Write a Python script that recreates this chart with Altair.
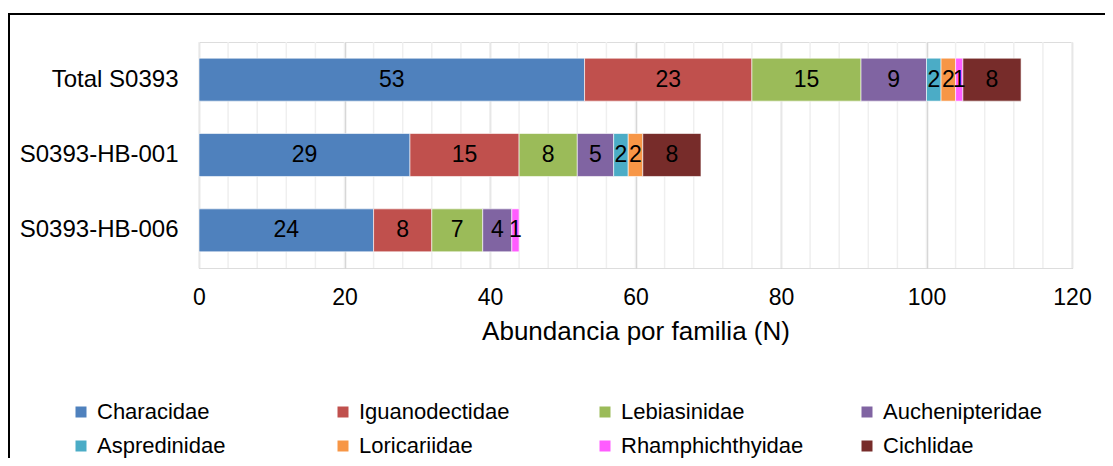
import altair as alt
import pandas as pd

sites = ["Total S0393", "S0393-HB-001", "S0393-HB-006"]
families = ["Characidae", "Iguanodectidae", "Lebiasinidae", "Auchenipteridae",
            "Aspredinidae", "Loricariidae", "Rhamphichthyidae", "Cichlidae"]
colors = ["#4F81BD", "#C0504D", "#9BBB59", "#8064A2",
          "#4BACC6", "#F79646", "#FF5CFF", "#772C2A"]
total = [53, 23, 15, 9, 2, 2, 1, 8]
hb001 = [29, 15, 8, 5, 2, 2, 0, 8]
hb006 = [24, 8, 7, 4, 0, 0, 1, 0]
x_ticks = [0, 20, 40, 60, 80, 100, 120]
minor_ticks = list(range(0, 124, 4))

rows = []
for site, vals in zip(sites, [total, hb001, hb006]):
    for i, (fam, v) in enumerate(zip(families, vals)):
        if v > 0:
            rows.append({"site": site, "family": fam, "n": v, "ord": i})
df = pd.DataFrame(rows)

FONT = "Liberation Sans"
W, H = 873, 226
PL, PT = 191, 34
CW, CH = 1097, 450

xscale = alt.Scale(domain=[0, 120], nice=False, zero=True)
yscale = alt.Scale(domain=sites, paddingInner=0.43, paddingOuter=0.215)

minor = alt.Chart(pd.DataFrame({"t": minor_ticks})).mark_rule(
    color="#EFEFEF", strokeWidth=1.5
).encode(
    x=alt.X("t:Q", scale=xscale),
    y=alt.value(0), y2=alt.value(H),
)

base = alt.Chart(df).transform_stack(
    stack="n", groupby=["site"], sort=[alt.SortField("ord")], as_=["x0", "x1"]
).transform_calculate(mid="(datum.x0 + datum.x1) / 2")

bars = base.mark_bar(stroke="white", strokeWidth=0.6).encode(
    x=alt.X("x0:Q", scale=xscale, title="Abundancia por familia (N)",
            axis=alt.Axis(values=x_ticks, grid=True, gridColor="#D0D0D0",
                          gridWidth=1.5, ticks=False, domain=False,
                          labelFontSize=23, labelFont=FONT, labelColor="#000",
                          labelPadding=18, titleFontSize=26, titleFont=FONT,
                          titleFontWeight="normal", titleColor="#000",
                          titlePadding=9, labelFlush=False)),
    x2="x1:Q",
    y=alt.Y("site:N", scale=yscale, sort=sites, title=None,
            axis=alt.Axis(ticks=False, domain=False, labelFontSize=24,
                          labelFont=FONT, labelColor="#000", labelPadding=21,
                          grid=False, labelLimit=300)),
    color=alt.Color("family:N", scale=alt.Scale(domain=families, range=colors),
                    sort=families,
                    legend=alt.Legend(orient="none", legendX=-129, legendY=359,
                                      columns=4, direction="horizontal",
                                      gridAlign="all",
                                      columnPadding=52, rowPadding=12,
                                      symbolType="square", symbolSize=121,
                                      symbolStrokeWidth=0, labelFontSize=22,
                                      labelFont=FONT, labelColor="#000",
                                      labelOffset=5, title=None, labelLimit=300)),
)

labels = base.mark_text(fontSize=23, font=FONT, color="#000").encode(
    x=alt.X("mid:Q", scale=xscale),
    y=alt.Y("site:N", scale=yscale, sort=sites),
    text="n:Q",
)

one = pd.DataFrame({"a": [0]})
border_left = alt.Chart(one).mark_rule(color="#000", strokeWidth=2).encode(
    x=alt.value(-PL + 1), y=alt.value(-PT + 6), y2=alt.value(CH - PT)
)
border_top = alt.Chart(one).mark_rule(color="#000", strokeWidth=2).encode(
    x=alt.value(-PL), x2=alt.value(CW - PL), y=alt.value(-PT + 6)
)

chart = alt.layer(minor, bars, labels, border_left, border_top).properties(
    width=W, height=H,
    autosize=alt.AutoSizeParams(type="none"),
    padding={"left": PL, "top": PT, "right": CW - PL - W, "bottom": CH - PT - H},
).configure_view(stroke=None).configure(background="white")

chart.save("out.html", embed_options={"renderer": "svg", "actions": False})
